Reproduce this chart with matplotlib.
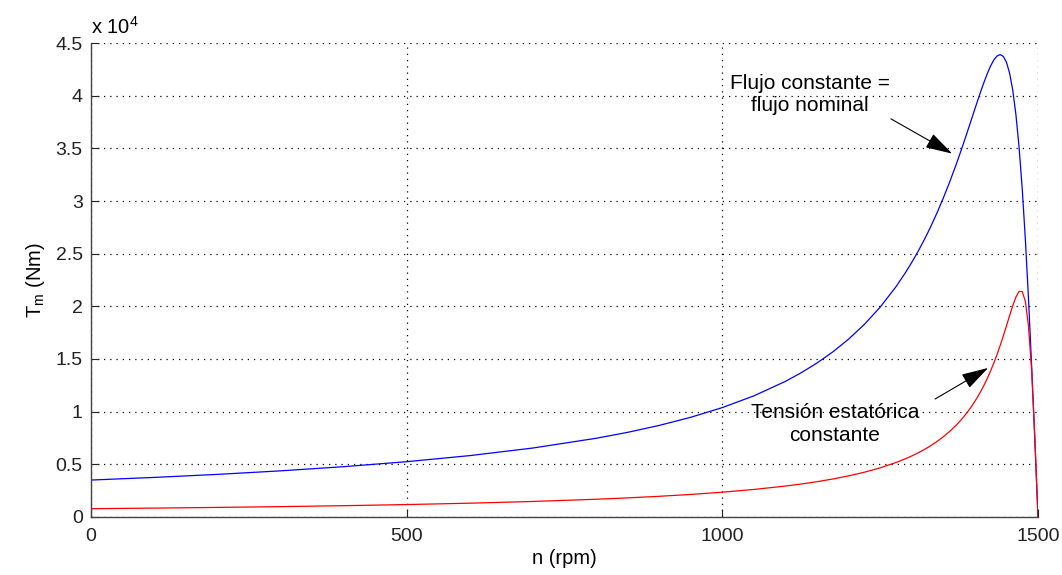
import matplotlib
matplotlib.use("Agg")
import matplotlib.pyplot as plt
from matplotlib.ticker import FuncFormatter

plt.rcParams['font.family'] = ['Liberation Sans', 'DejaVu Sans']

# speed (rpm)
n_rpm = [0, 100, 200, 300, 400, 500, 600, 700, 800, 850, 900, 950, 1000, 1050,
         1100, 1125, 1150, 1175, 1200, 1225, 1250, 1275, 1290, 1300, 1310, 1320,
         1325, 1330, 1340, 1350, 1360, 1370, 1375, 1380, 1385, 1390, 1395, 1400,
         1405, 1410, 1415, 1420, 1425, 1430, 1435, 1440, 1445, 1450, 1455, 1460,
         1465, 1470, 1475, 1480, 1485, 1490, 1495, 1500]

# torque (Nm), constant flux = nominal flux
t_flujo = [3506, 3756, 4044, 4379, 4775, 5249, 5827, 6548, 7471, 8036, 8693, 9466,
           10387, 11502, 12880, 13697, 14621, 15675, 16885, 18286, 19924, 21859,
           23193, 24167, 25212, 26340, 26937, 27556, 28866, 30276, 31790, 33407,
           34252, 35120, 36007, 36910, 37822, 38735, 39641, 40523, 41364, 42144,
           42829, 43384, 43760, 43900, 43734, 43180, 42144, 40523, 38214, 35120,
           31172, 26340, 20659, 14238, 7266, 0]

# torque (Nm), constant stator voltage
t_tension = [787, 843, 908, 983, 1072, 1179, 1310, 1474, 1684, 1813, 1963, 2141,
             2354, 2613, 2937, 3131, 3352, 3606, 3902, 4250, 4665, 5169, 5526,
             5793, 6085, 6408, 6583, 6767, 7166, 7614, 8119, 8692, 9008, 9347,
             9711, 10101, 10522, 10976, 11467, 11999, 12575, 13200, 13879, 14615,
             15411, 16268, 17181, 18140, 19116, 20061, 20881, 21415, 21406, 20466,
             18094, 13830, 7581, 0]

xticks = [0, 500, 1000, 1500]
yticks = [0, 5000, 10000, 15000, 20000, 25000, 30000, 35000, 40000, 45000]

fig = plt.figure(figsize=(10.62, 5.75), dpi=100)
ax = fig.add_axes([0.0857, 0.1009, 0.8917, 0.8243])

ax.plot(n_rpm, t_flujo, color='blue', lw=0.9)
ax.plot(n_rpm, t_tension, color='red', lw=0.9)

ax.set_xlim(0, 1500)
ax.set_ylim(0, 45000)
ax.set_xticks(xticks)
ax.set_yticks(yticks)
ax.yaxis.set_major_formatter(FuncFormatter(lambda v, p: f'{v/1e4:g}'))
ax.tick_params(direction='in', length=6, labelsize=14, colors='#222222')
ax.tick_params(axis='x', pad=8)
ax.tick_params(axis='y', pad=6)
ax.grid(True, color='black', linestyle=(0, (1, 4)), lw=0.9)
for s in ['top', 'right']:
    ax.spines[s].set_visible(False)
for s in ['left', 'bottom']:
    ax.spines[s].set_color('#444444')
    ax.spines[s].set_linewidth(1.0)

ax.set_xlabel('n (rpm)', fontsize=14.5, labelpad=3)
ax.set_ylabel('T$_\\mathregular{m}$ (Nm)', fontsize=14.5, labelpad=6)
ax.text(0.0, 1.012, 'x 10$^\\mathregular{4}$', transform=ax.transAxes,
        fontsize=14.5, ha='left', va='bottom')

arrow = dict(arrowstyle='-|>,head_width=0.35,head_length=1.2', color='black',
             lw=0.8, shrinkA=0, shrinkB=0, mutation_scale=14)
ax.text(1139, 40100, 'Flujo constante =\nflujo nominal', ha='center',
        va='center', fontsize=15, linespacing=1.25)
ax.annotate('', xy=(1364, 34500), xytext=(1267, 37800), arrowprops=arrow)
ax.text(1178, 8830, 'Tensión estatórica\nconstante', ha='center',
        va='center', fontsize=15, linespacing=1.25)
ax.annotate('', xy=(1421, 14150), xytext=(1337, 11200), arrowprops=arrow)

fig.savefig('out.png', dpi=100)
